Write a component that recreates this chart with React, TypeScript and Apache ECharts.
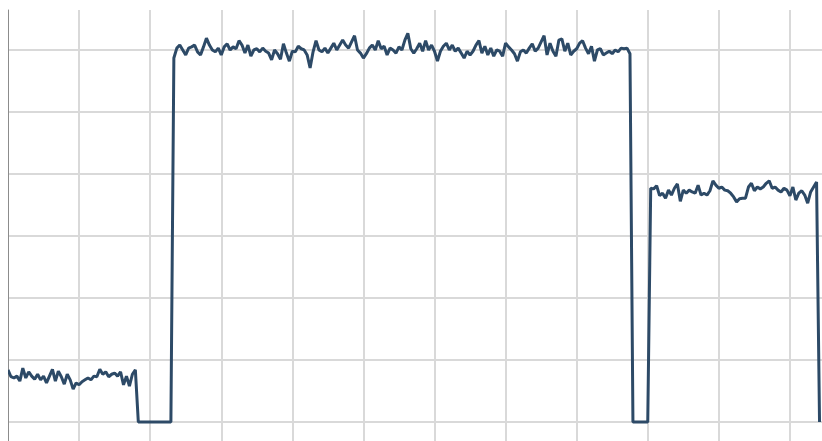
import React, { useEffect, useRef } from "react";
import * as echarts from "echarts";

// Signal levels, one value per sample (sample index = x value)
const lowPhase: number[] = [
  8.4, 7.3, 7.1, 7.4, 6.6, 8.7, 7.1, 8.1, 7.4, 6.9,
  7.7, 6.8, 7.4, 6.3, 7.4, 8.5, 6.6, 8.2, 7.3, 6.1,
  7.7, 6.8, 5.3, 6.3, 6.0, 6.5, 6.8, 7.1, 6.8, 7.4,
  7.3, 8.5, 7.7, 8.1, 7.3, 7.7, 7.9, 7.4, 8.1, 6.0,
  7.4, 5.8, 7.7, 8.4,
];

const gapOne: number[] = [0, 0, 0, 0, 0, 0, 0, 0, 0, 0, 0, 0];

const highPhase: number[] = [
  58.7, 60.3, 60.8, 60.0, 59.2, 60.3, 60.5, 60.8, 59.7, 59.2,
  60.5, 61.9, 60.8, 60.0, 59.7, 60.3, 59.2, 60.5, 61.0, 60.0,
  60.5, 60.2, 61.5, 60.8, 59.5, 60.8, 59.0, 60.0, 60.2, 59.7,
  60.3, 59.8, 59.5, 58.4, 60.0, 59.4, 58.5, 61.0, 59.5, 58.2,
  59.8, 59.7, 60.6, 60.2, 60.0, 59.2, 57.1, 59.7, 61.5, 60.0,
  59.7, 60.3, 59.5, 60.3, 61.1, 60.0, 60.8, 61.6, 60.8, 60.3,
  61.3, 62.3, 60.0, 59.5, 58.7, 59.4, 60.3, 60.8, 60.0, 61.5,
  60.2, 60.6, 59.2, 60.3, 60.0, 59.5, 60.5, 60.0, 61.6, 62.7,
  60.2, 59.5, 60.2, 61.1, 59.8, 61.5, 60.0, 60.8, 59.8, 58.2,
  59.8, 60.6, 61.1, 60.0, 60.8, 59.8, 60.3, 59.5, 58.7, 59.8,
  59.2, 59.8, 60.8, 61.5, 59.5, 60.6, 59.2, 60.3, 59.0, 60.0,
  59.8, 59.0, 61.1, 60.5, 60.0, 59.4, 58.2, 59.7, 60.0, 59.5,
  60.3, 61.0, 59.8, 60.3, 61.3, 62.3, 59.2, 61.1, 59.8, 59.0,
  61.6, 61.8, 59.8, 61.1, 59.2, 59.8, 60.2, 61.1, 61.5, 60.3,
  59.4, 60.6, 58.2, 60.0, 60.2, 59.2, 59.5, 59.8, 59.4, 60.0,
  59.7, 60.3, 60.2, 60.3, 59.4,
];

const gapTwo: number[] = [0, 0, 0, 0, 0, 0];

const midPhase: number[] = [
  37.7, 37.6, 38.1, 36.5, 36.9, 36.1, 37.4, 36.6, 37.7, 38.4,
  35.6, 37.4, 36.9, 37.4, 37.1, 36.9, 38.2, 36.6, 36.9, 36.6,
  37.3, 38.9, 38.2, 37.7, 37.9, 37.4, 37.3, 36.9, 36.3, 35.5,
  36.0, 36.1, 36.1, 37.9, 38.5, 37.3, 37.9, 37.6, 37.9, 38.5,
  38.9, 37.7, 37.9, 37.4, 37.1, 37.7, 37.4, 36.5, 37.9, 35.8,
  36.9, 37.3, 36.6, 35.3, 37.1, 37.9, 38.7,
];

const tail: number[] = [0];

export default function App() {
  const ref = useRef<HTMLDivElement>(null);

  useEffect(() => {
    if (!ref.current) return;
    const chart = echarts.init(ref.current, null, { renderer: "svg" });
    const values = [...lowPhase, ...gapOne, ...highPhase, ...gapTwo, ...midPhase, ...tail];
    const data = values.map((v, i) => [i, v]);
    chart.setOption({
      animation: false,
      grid: { left: 0, top: 2, right: 0, bottom: 0, containLabel: false },
      xAxis: {
        type: "value",
        min: 0,
        max: 288,
        interval: 24,
        axisLine: { show: false },
        axisTick: { show: false },
        axisLabel: { show: false },
        splitLine: {
          show: true,
          showMinLine: false,
          showMaxLine: false,
          lineStyle: { color: "#d9d9d9", width: 2 },
        },
      },
      yAxis: {
        type: "value",
        min: -10,
        max: 66.45,
        interval: 10,
        axisLine: { show: true, lineStyle: { color: "#8c8c8c", width: 1 } },
        axisTick: { show: false },
        axisLabel: { show: false },
        splitLine: {
          show: true,
          showMinLine: false,
          showMaxLine: false,
          lineStyle: { color: "#d9d9d9", width: 2 },
        },
      },
      series: [
        {
          type: "line",
          data,
          showSymbol: false,
          symbol: "none",
          lineStyle: { color: "#2d4a67", width: 3 },
          z: 5,
        },
      ],
    });
    return () => chart.dispose();
  }, []);

  return (
    <div
      style={{
        position: "fixed",
        left: 8,
        top: 8,
        width: 814,
        height: 433,
        overflow: "hidden",
      }}
    >
      <div ref={ref} style={{ width: 853, height: 476 }} />
    </div>
  );
}
